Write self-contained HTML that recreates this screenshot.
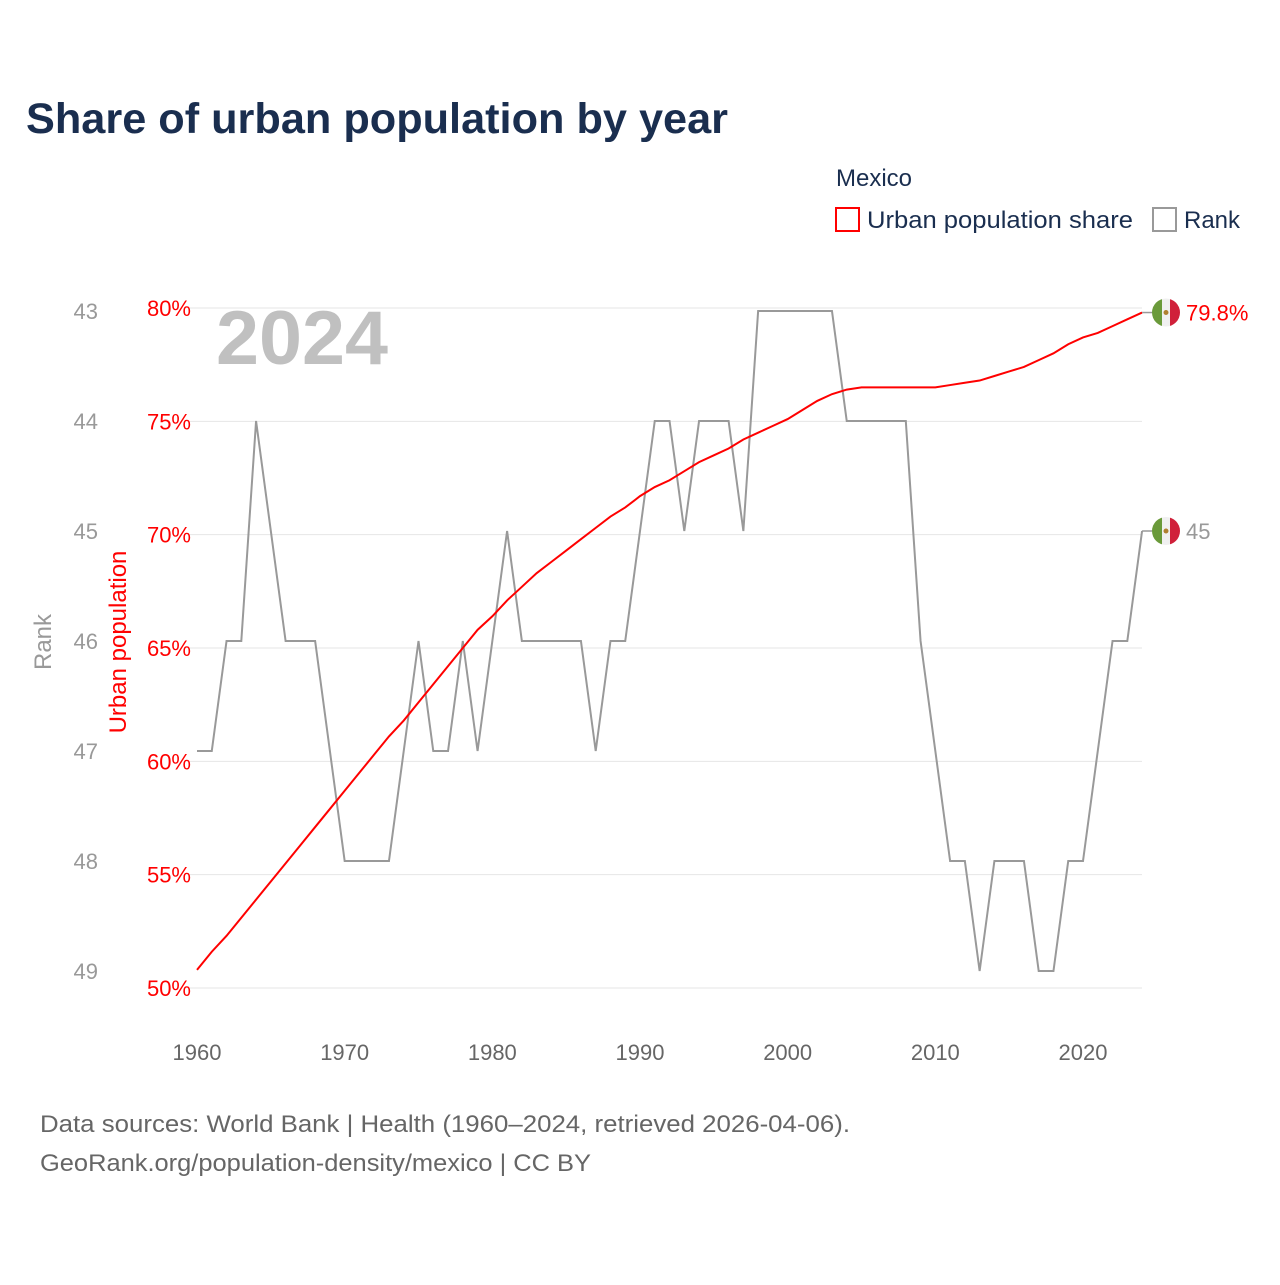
<!DOCTYPE html>
<html><head><meta charset="utf-8"><style>
body{margin:0;background:#fff;font-family:"Liberation Sans",sans-serif}
</style></head><body>
<svg id="chart" width="1280" height="1280" viewBox="0 0 1280 1280" xmlns="http://www.w3.org/2000/svg" font-family="Liberation Sans, sans-serif">
<rect width="1280" height="1280" fill="#fff"/>
<text x="26" y="133" font-size="43" font-weight="bold" fill="#1a2e4f" textLength="702" lengthAdjust="spacingAndGlyphs">Share of urban population by year</text>
<text x="836" y="186" font-size="24" fill="#1a2e4f">Mexico</text>
<g><rect x="836" y="208" width="23" height="23" fill="none" stroke="red" stroke-width="2"/><text x="867" y="228" font-size="24" fill="#1a2e4f" textLength="266" lengthAdjust="spacingAndGlyphs">Urban population share</text></g>
<g><rect x="1153" y="208" width="23" height="23" fill="none" stroke="#999" stroke-width="2"/><text x="1184" y="228" font-size="24" fill="#1a2e4f">Rank</text></g>
<g id="grid"></g><g id="axes"></g>
<text x="216" y="364" font-size="76" font-weight="bold" fill="#c0c0c0" textLength="172" lengthAdjust="spacingAndGlyphs">2024</text>
<text transform="translate(51,642) rotate(-90)" text-anchor="middle" font-size="24" fill="#999">Rank</text>
<text transform="translate(126,642) rotate(-90)" text-anchor="middle" font-size="24" fill="red">Urban population</text>
<g id="series"></g>
<text x="40" y="1132" font-size="24" fill="#666" textLength="810" lengthAdjust="spacingAndGlyphs">Data sources: World Bank | Health (1960–2024, retrieved 2026-04-06).</text>
<text x="40" y="1171" font-size="24" fill="#666" textLength="551" lengthAdjust="spacingAndGlyphs">GeoRank.org/population-density/mexico | CC BY</text>
</svg>
<script>
const years=[];for(let y=1960;y<=2024;y++)years.push(y);
const urbanShare=[50.8,51.6,52.3,53.1,53.9,54.7,55.5,56.3,57.1,57.9,58.7,59.5,60.3,61.1,61.8,62.6,63.4,64.2,65.0,65.8,66.4,67.1,67.7,68.3,68.8,69.3,69.8,70.3,70.8,71.2,71.7,72.1,72.4,72.8,73.2,73.5,73.8,74.2,74.5,74.8,75.1,75.5,75.9,76.2,76.4,76.5,76.5,76.5,76.5,76.5,76.5,76.6,76.7,76.8,77.0,77.2,77.4,77.7,78.0,78.4,78.7,78.9,79.2,79.5,79.8];
const rankValues=[47,47,46,46,44,45,46,46,46,47,48,48,48,48,47,46,47,47,46,47,46,45,46,46,46,46,46,47,46,46,45,44,44,45,44,44,44,45,43,43,43,43,43,43,44,44,44,44,44,46,47,48,48,49,48,48,48,49,49,48,48,47,46,46,45];
const pctTicks=[50,55,60,65,70,75,80];
const rankTicks=[43,44,45,46,47,48,49];
const xTicks=[1960,1970,1980,1990,2000,2010,2020];
const NS="http://www.w3.org/2000/svg";
const xS=y=>197+(y-1960)*(1083-197)/60;
const yP=p=>988-(p-50)*(988-308)/30;
const yR=r=>311+(r-43)*110;
function mk(t,a,p){const e=document.createElementNS(NS,t);for(const k in a)e.setAttribute(k,a[k]);p.appendChild(e);return e;}
const grid=document.getElementById('grid'),axes=document.getElementById('axes'),ser=document.getElementById('series');
pctTicks.forEach(p=>{
 const l=mk('line',{x1:190,x2:1142,y1:yP(p),y2:yP(p),stroke:'#e6e6e6','stroke-width':1},grid);
 
 
 const t=mk('text',{x:191,y:yP(p)+8,'text-anchor':'end','font-size':22,fill:'red'},axes);t.textContent=p+'%';
 
 
});
rankTicks.forEach(r=>{
 const t=mk('text',{x:98,y:yR(r)+8,'text-anchor':'end','font-size':22,fill:'#999'},axes);t.textContent=r;
 
 
});
xTicks.forEach(y=>{
 const t=mk('text',{x:xS(y),y:1060,'text-anchor':'middle','font-size':22,fill:'#666'},axes);t.textContent=y;
 
 
});
const rl=mk('polyline',{points:years.map((y,i)=>xS(y)+','+yR(rankValues[i])).join(' '),fill:'none',stroke:'#999','stroke-width':2},ser);


const ul=mk('polyline',{points:years.map((y,i)=>xS(y)+','+yP(urbanShare[i])).join(' '),fill:'none',stroke:'red','stroke-width':2},ser);


function flag(cy,label,color,name){
 const lx=xS(2024);
 mk('line',{x1:lx,x2:1152,y1:cy,y2:cy,stroke:'#999','stroke-width':1.5},ser);
 const g=mk('g',{},ser);
 
 
 const cx=1166;
 mk('clipPath',{id:'c'+name},g).appendChild(document.createElementNS(NS,'circle')).setAttribute('r',14);
 g.lastChild.firstChild.setAttribute('cx',cx);g.lastChild.firstChild.setAttribute('cy',cy);
 const gg=mk('g',{'clip-path':'url(#c'+name+')'},g);
 mk('rect',{x:cx-14,y:cy-14,width:10,height:28,fill:'#6a9a3a'},gg);
 mk('rect',{x:cx-4,y:cy-14,width:8,height:28,fill:'#f0f0f0'},gg);
 mk('rect',{x:cx+4,y:cy-14,width:10,height:28,fill:'#d0203a'},gg);
 mk('circle',{cx:cx,cy:cy,r:2.5,fill:'#b08030'},gg);
 const t=mk('text',{x:1186,y:cy+8,'font-size':22,fill:color},ser);t.textContent=label;
 
 
}
flag(yP(urbanShare[urbanShare.length-1]),urbanShare[urbanShare.length-1].toFixed(1)+'%','red','urban-end-flag');
flag(yR(rankValues[rankValues.length-1]),String(rankValues[rankValues.length-1]),'#999','rank-end-flag');
</script>
</body></html>
